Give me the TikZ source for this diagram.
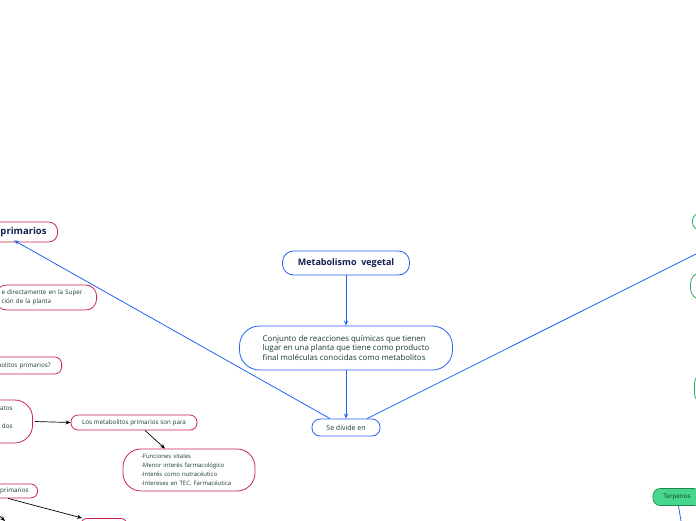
\documentclass[tikz,border=0pt]{standalone}
\usepackage{fontspec}
\setmainfont{Open Sans}
\usepackage{xcolor}
\usepackage{tikz}
\usetikzlibrary{arrows.meta,positioning}
\definecolor{mmblue}{RGB}{38,96,245}
\definecolor{mmred}{RGB}{200,40,75}
\definecolor{mmgreen}{RGB}{35,170,95}
\definecolor{mmgreenfill}{RGB}{70,215,140}
\definecolor{mmtext}{RGB}{25,60,45}
\definecolor{mmnavy}{RGB}{20,30,80}

\begin{document}
\begin{tikzpicture}[x=1pt, y=-1pt,
  every node/.style={font=\fontsize{6.3}{9}\selectfont, text=mmtext},
  bluebox/.style={draw=mmblue, line width=0.8pt, fill=white, rounded corners=8pt, inner xsep=6pt, inner ysep=2pt},
  redbox/.style={draw=mmred, line width=0.8pt, fill=white, rounded corners=7pt, inner xsep=6pt, inner ysep=2pt},
  greenbox/.style={draw=mmgreen, line width=0.8pt, fill=white, rounded corners=8pt, minimum width=40pt},
  terpbox/.style={draw=mmgreen!80!black, line width=0.6pt, fill=mmgreenfill, rounded corners=7pt, inner xsep=5pt, inner ysep=2pt},
  bluelink/.style={draw=mmblue, line width=0.8pt, -{Stealth[length=5pt,width=4pt]}},
  blacklink/.style={draw=black, line width=0.7pt, -{Stealth[length=5pt,width=4pt]}}]
\useasboundingbox (0,0) rectangle (696,520);
\clip (0,0) rectangle (696,520);
% Centre
\node[bluebox, font=\bfseries\fontsize{9}{11}\selectfont, text=mmnavy, minimum width=127pt, minimum height=24pt, rounded corners=11pt] (meta) at (346,263) {Metabolismo~ vegetal};
\node[bluebox, font=\fontsize{7.9}{9.3}\selectfont, align=left, minimum width=213pt, minimum height=44pt, rounded corners=20pt] (conj) at (346,348) {Conjunto de reacciones químicas que tienen\\lugar en una planta que tiene como producto\\final moléculas conocidas como metabolitos};
\node[bluebox, font=\fontsize{7}{9}\selectfont, minimum width=68pt, minimum height=17pt] (sediv) at (346,427.5) {Se divide en};
\draw[bluelink] (meta) -- (conj);
\draw[bluelink] (conj) -- (sediv);
% Left branch
\node[redbox, font=\bfseries\fontsize{9.5}{11}\selectfont, text=mmnavy, anchor=east, text width=100pt, align=right, inner xsep=11pt, minimum height=20pt, rounded corners=9pt] (prim) at (58,232) {primarios};
\node[redbox, anchor=east, text width=89pt, align=left, minimum height=25pt, rounded corners=11pt] (super) at (97,297.5) {e directamente en la Super\\ción de la planta};
\node[redbox, anchor=east, text width=60pt, align=right, inner xsep=11pt, minimum height=17pt] (pregunta) at (62,365.5) {bolitos primarios?};
\node[redbox, anchor=east, text width=40pt, align=right, inner xsep=20pt, minimum height=43pt, rounded corners=18pt] (grupo) at (33,421.5) {atos\\\mbox{}\\dos\\\mbox{}};
\node[redbox, minimum width=126pt, minimum height=15pt] (para) at (134,422.5) {Los metabolitos primarios son para};
\node[redbox, font=\fontsize{6}{9}\selectfont, text width=96pt, align=left, inner xsep=18pt, minimum height=42pt, rounded corners=18pt] (funciones) at (189,470) {-Funciones vitales\\-Menor interés farmacológico\\-Interés como nutracéutico\\-Intereses en TEC. Farmacéutica};
\node[redbox, anchor=east, text width=40pt, align=right, inner xsep=9pt, minimum height=14pt] (rimarios) at (38,491) {primarios};
\node[redbox, anchor=north west, minimum width=47pt, minimum height=20pt] (abajo) at (80,518) {};
\coordinate (fuera) at (-12,505);
\coordinate (fuerabajo) at (5,521);
\draw[bluelink] ([xshift=-16pt]sediv.north) -- ([xshift=-44pt,yshift=2pt]prim.south east);
\draw[blacklink] (grupo.east) ++(2,0) -- (para.west);
\draw[blacklink] ([xshift=11pt]para.south) -- ([xshift=-24pt]funciones.north);
\draw[blacklink] ([xshift=-30pt]rimarios.south east) -- ([xshift=2pt]abajo.north west);
\draw[blacklink] (fuera) -- (fuerabajo);
% Right branch
\coordinate (derecha) at (740,232);
\draw[bluelink] ([xshift=21pt]sediv.north) -- (derecha);
\node[greenbox, anchor=west, minimum height=17pt] (verde1) at (692,221.5) {};
\node[greenbox, anchor=west, minimum height=28pt, rounded corners=12pt] (verde2) at (690,286) {};
\node[greenbox, anchor=west, minimum height=33pt, rounded corners=12pt] (verde3) at (694,388.5) {};
\node[terpbox, minimum width=48pt, minimum height=17pt] (terp) at (677,497) {Terpenos};
\coordinate (terpbajo) at (681,521);
\draw[draw=mmblue, line width=0.8pt] (terp) -- (terpbajo);
\end{tikzpicture}
\end{document}
